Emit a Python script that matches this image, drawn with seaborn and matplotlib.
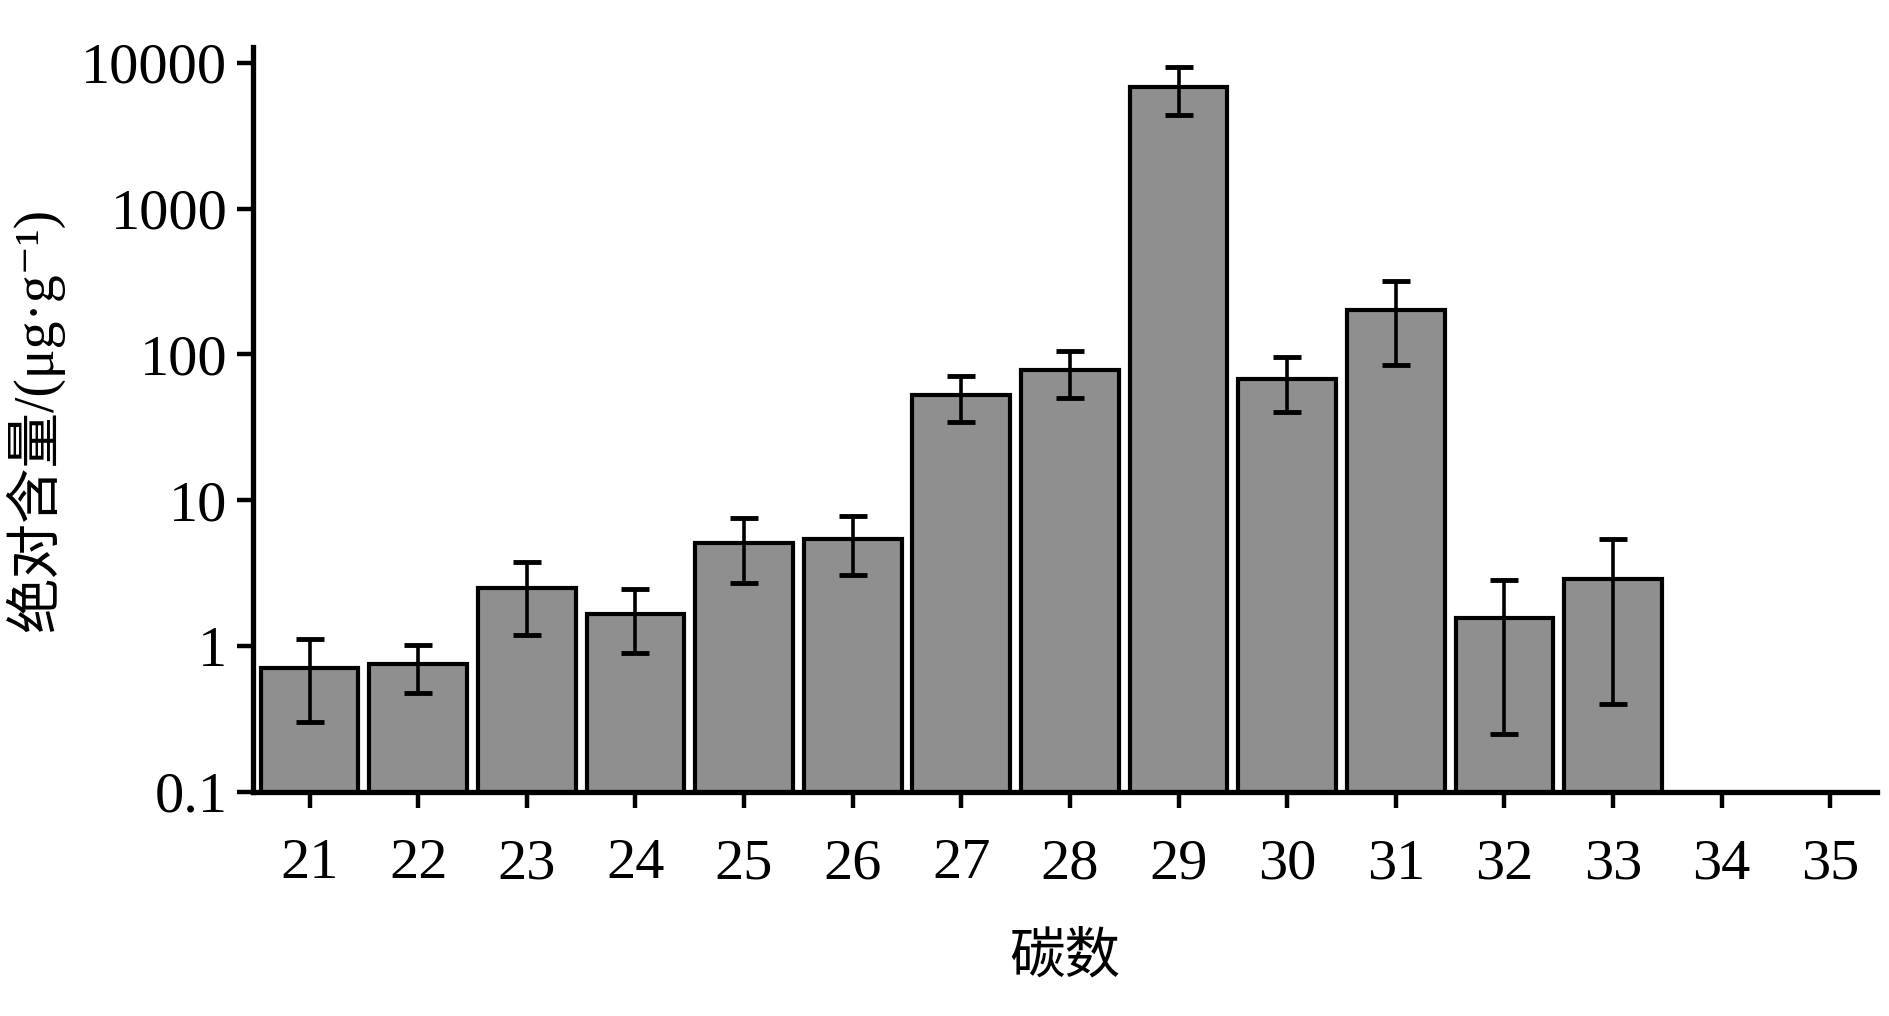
import numpy as np
import pandas as pd
import matplotlib
matplotlib.use("Agg")
import matplotlib.pyplot as plt
import seaborn as sns

# 碳数 (carbon number) and absolute content, ug/g
carbon = ["21", "22", "23", "24", "25", "26", "27", "28", "29", "30", "31", "32", "33"]
all_carbon = carbon + ["34", "35"]
content = [0.71, 0.75, 2.49, 1.67, 5.1, 5.45, 53, 78, 6840, 68, 202, 1.55, 2.9]
sd = [0.41, 0.27, 1.3, 0.78, 2.4, 2.4, 18.5, 28, 2430, 28, 118, 1.3, 2.5]

sns.set_style("ticks")
plt.rcParams['font.family'] = ['Liberation Serif', 'Noto Sans CJK SC', 'DejaVu Sans']
plt.rcParams['text.color'] = 'black'
plt.rcParams['axes.labelcolor'] = 'black'
plt.rcParams['xtick.color'] = 'black'
plt.rcParams['ytick.color'] = 'black'
plt.rcParams['axes.edgecolor'] = 'black'

df = pd.DataFrame({"carbon": carbon, "content": content})

fig = plt.figure(figsize=(18.9, 10.16), dpi=100)
ax = fig.add_axes([0.1339, 0.2205, 0.8592, 0.7332])

sns.barplot(data=df, x="carbon", y="content", order=all_carbon, color="#8f8f8f",
            saturation=1, width=0.9, edgecolor="black", linewidth=3.0, ax=ax)
ax.set_yscale("log")

pos = [all_carbon.index(c) for c in carbon]
ax.errorbar(pos, content, yerr=sd, fmt="none", ecolor="black",
            elinewidth=2.6, capsize=10, capthick=3.5)

ax.set_ylim(0.1, 12800)
ax.set_xlim(-0.52, len(all_carbon) - 1 + 0.43)
ax.set_yticks([0.1, 1, 10, 100, 1000, 10000])
ax.set_yticklabels(["0.1", "1", "10", "100", "1000", "10000"])
ax.minorticks_off()

for s in ["top", "right"]:
    ax.spines[s].set_visible(False)
for s in ["left", "bottom"]:
    ax.spines[s].set_linewidth(3.8)

ax.tick_params(axis="both", labelsize=42, width=3.2, length=11.5, direction="out")
ax.tick_params(axis="x", pad=22)
ax.tick_params(axis="y", pad=7)

ax.set_xlabel("碳数", fontsize=40, labelpad=30)
ax.set_ylabel("绝对含量/(μg·g⁻¹)", fontsize=40, labelpad=12)

fig.savefig("out.png", dpi=100)
